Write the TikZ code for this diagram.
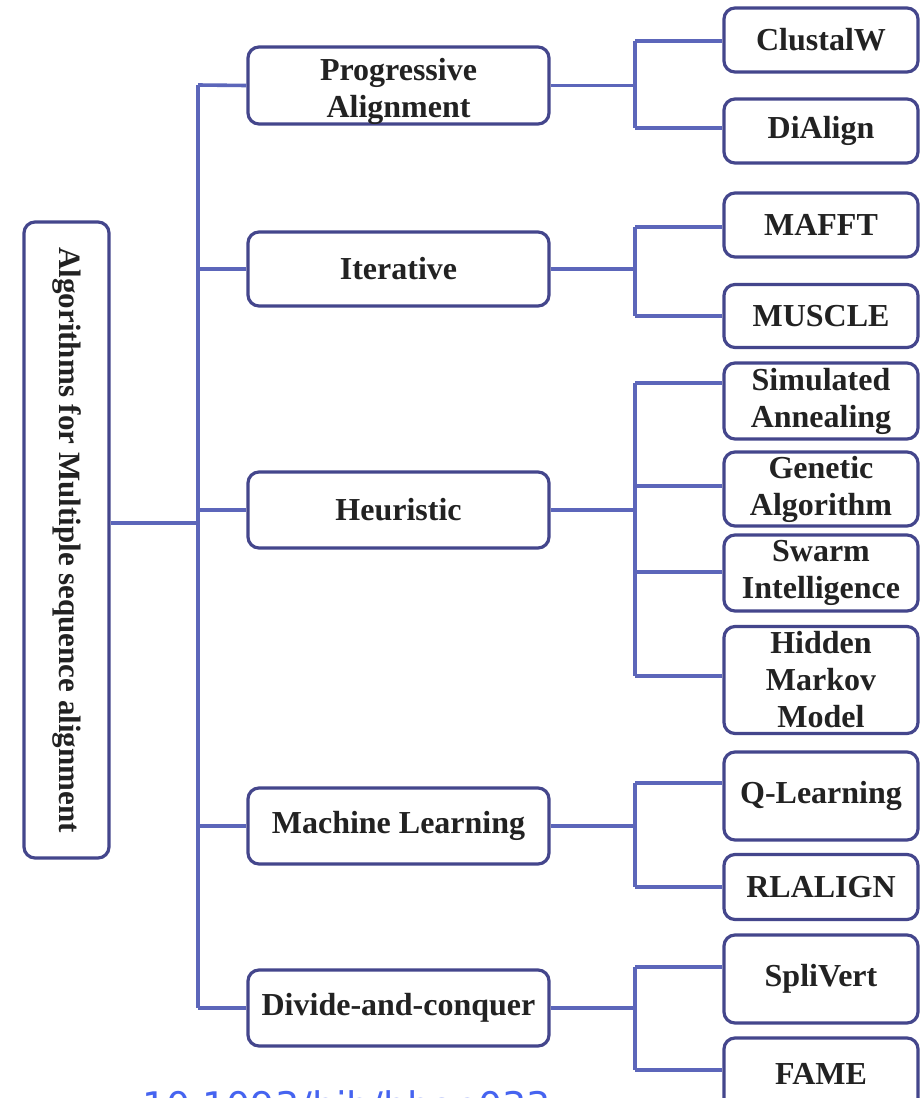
\documentclass[tikz,border=0pt]{standalone}
\usepackage{fontspec}
\setmainfont{Liberation Serif}
\newfontfamily\wmfont{DejaVu Sans}
\definecolor{conn}{RGB}{92,102,186}
\definecolor{bord}{RGB}{68,70,140}
\definecolor{txt}{RGB}{34,34,34}
\definecolor{wm}{RGB}{70,100,240}
\begin{document}
\begin{tikzpicture}[x=1pt,y=-1pt,
  label font/.style={text=txt, font=\fontsize{32}{37}\selectfont\bfseries, align=center},
  box/.style={draw=bord, line width=3.2pt, rounded corners=11pt, fill=white,
    label font, inner sep=0pt},
  lone/.style={box, minimum width=301pt},
  leaf/.style={box, minimum width=194pt},
  wire/.style={draw=conn, line width=3.6pt}]
\useasboundingbox (0,0) rectangle (920,1098);
\fill[white] (0,0) rectangle (920,1098);

% watermark (cut by the lower edge, as in the reference)
\node[anchor=north west, inner sep=0pt, text=wm, font=\wmfont\fontsize{38}{42}\selectfont] (wmark) at (142,1090) {10.1093/bib/bbae033};

% coordinates
\coordinate (t1) at (198,85);
\coordinate (t2) at (198,269);
\coordinate (t0) at (198,523);
\coordinate (t3) at (198,510);
\coordinate (t4) at (198,826);
\coordinate (t5) at (198,1008);

% root
\node[box, minimum width=636pt, minimum height=85pt, rotate=-90,
  font=\fontsize{31}{36}\selectfont\bfseries] (root) at (66.5,540)
  {Algorithms for Multiple sequence alignment};

% level 1
\node[lone, minimum height=77pt] (pa) at (398.5,85.5) {};
\node[label font, inner sep=0pt] (patext) at (398.5,91) {Progressive\\Alignment};
\node[lone, minimum height=74pt] (it) at (398.5,269) {Iterative};
\node[lone, minimum height=76pt] (he) at (398.5,510) {Heuristic};
\node[lone, minimum height=76pt] (ml) at (398.5,826) {Machine Learning};
\node[lone, minimum height=76pt] (dc) at (398.5,1008) {Divide-and-conquer};

% leaves
\node[leaf, minimum height=64pt] (cw) at (821,40) {ClustalW};
\node[leaf, minimum height=64pt] (da) at (821,131) {DiAlign};
\node[leaf, minimum height=64pt] (mf) at (821,225) {MAFFT};
\node[leaf, minimum height=63pt] (mu) at (821,316) {MUSCLE};
\node[leaf, minimum height=76pt] (sa) at (821,401) {Simulated\\Annealing};
\node[leaf, minimum height=74pt] (ga) at (821,489) {Genetic\\Algorithm};
\node[leaf, minimum height=76pt] (si) at (821,573) {Swarm\\Intelligence};
\node[leaf, minimum height=107pt] (hm) at (821,680) {Hidden\\Markov\\Model};
\node[leaf, minimum height=88pt] (ql) at (821,796) {Q-Learning};
\node[leaf, minimum height=65pt] (rl) at (821,887) {RLALIGN};
\node[leaf, minimum height=88pt] (sv) at (821,979) {SpliVert};
\node[leaf, minimum height=72pt] (fm) at (821,1074) {FAME};

% trunk
\path[wire] ([yshift=17pt]root.north) -- (t0);
\path[wire] (t1) -- (t5);
\path[wire] (t1) -- (pa.west);
\path[wire] (t2) -- (it.west);
\path[wire] (t3) -- (he.west);
\path[wire] (t4) -- (ml.west);
\path[wire] (t5) -- (dc.west);

% buses
\path[wire] (pa.east) -- (635,85.5);
\path[wire] (635,41) -- (635,128);
\path[wire] (635,41) -- (cw.west |- 0,41);
\path[wire] (635,128) -- (da.west |- 0,128);

\path[wire] (it.east) -- (635,269);
\path[wire] (635,227) -- (635,316);
\path[wire] (635,227) -- (mf.west |- 0,227);
\path[wire] (635,316) -- (mu.west);

\path[wire] (he.east) -- (635,510);
\path[wire] (635,383) -- (635,676);
\path[wire] (635,383) -- (sa.west |- 0,383);
\path[wire] (635,486) -- (ga.west |- 0,486);
\path[wire] (635,572) -- (si.west |- 0,572);
\path[wire] (635,676) -- (hm.west |- 0,676);

\path[wire] (ml.east) -- (635,826);
\path[wire] (635,783) -- (635,887);
\path[wire] (635,783) -- (ql.west |- 0,783);
\path[wire] (635,887) -- (rl.west);

\path[wire] (dc.east) -- (635,1008);
\path[wire] (635,967) -- (635,1070);
\path[wire] (635,967) -- (sv.west |- 0,967);
\path[wire] (635,1070) -- (fm.west |- 0,1070);
\end{tikzpicture}
\end{document}
